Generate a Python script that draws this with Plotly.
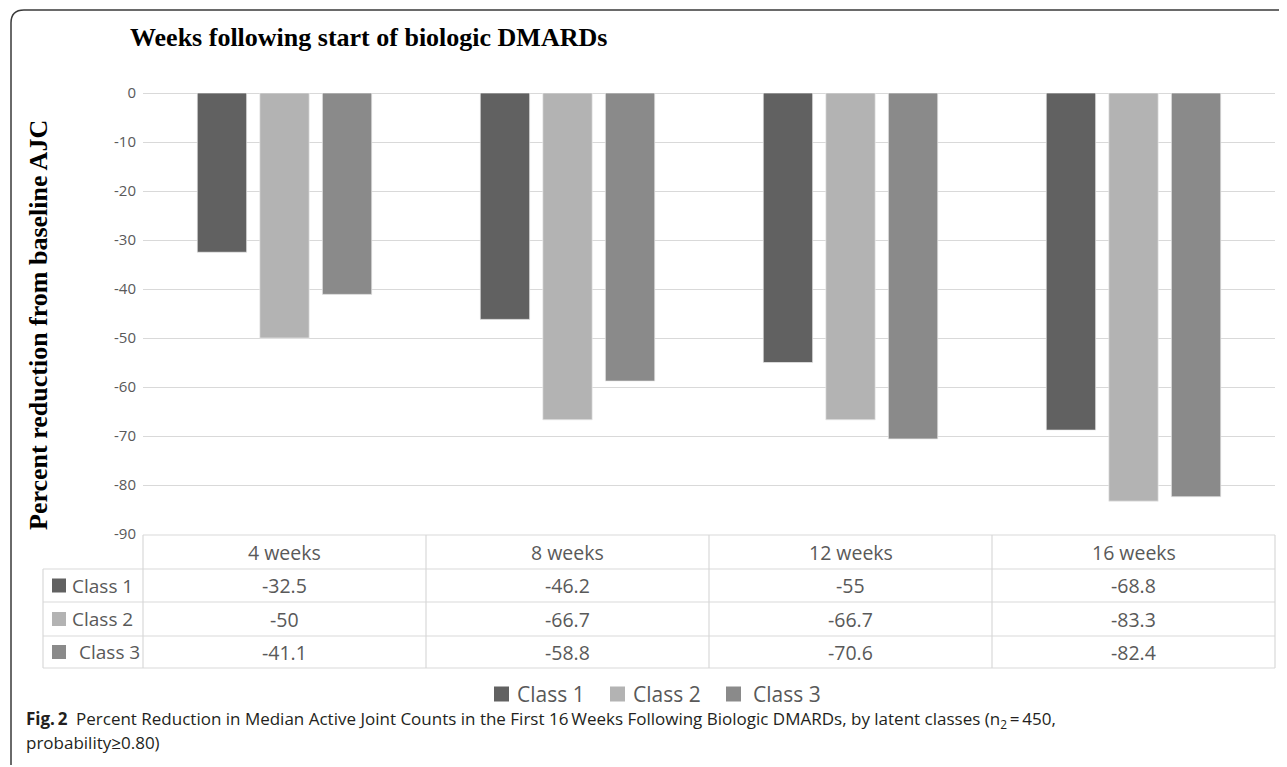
import plotly.graph_objects as go

# ---------------- data ----------------
categories = ["4 weeks", "8 weeks", "12 weeks", "16 weeks"]
series_names = ["Class 1", "Class 2", "Class 3"]
class1 = [-32.5, -46.2, -55, -68.8]
class2 = [-50, -66.7, -66.7, -83.3]
class3 = [-41.1, -58.8, -70.6, -82.4]
series_values = [class1, class2, class3]
y_ticks = [0, -10, -20, -30, -40, -50, -60, -70, -80, -90]

title_text = "Weeks following start of biologic DMARDs"
y_title = "Percent reduction from baseline AJC"
caption_line1 = ("<b>Fig.\u20092</b>\u2002Percent Reduction in Median Active Joint Counts in the First "
                 "16\u2009Weeks Following Biologic DMARDs, by latent classes (n<sub>2</sub>\u2009=\u2009450,")
caption_line2 = "probability\u22650.80)"

# ---------------- style / geometry ----------------
colors = ["#616161", "#b3b3b3", "#8a8a8a"]
text_color = "#595959"
grid_color = "#d9d9d9"
OFF = 8                      # page body margin
FW, FH = 1287 - OFF, 767 - OFF
L = 143 - OFF
R = FW - (1275 - OFF)
T = 93 - OFF
B = FH - (534 - OFF)
PW, PH = FW - L - R, FH - T - B


def px2x(px):
    """reference-screen x pixel -> paper x"""
    return (px - OFF - L) / PW


def py2y(py):
    """reference-screen y pixel -> paper y"""
    return (FH - B - (py - OFF)) / PH


fig = go.Figure()
for name, vals, col in zip(series_names, series_values, colors):
    fig.add_trace(go.Bar(
        x=categories, y=vals, name=name,
        marker=dict(color=col, line=dict(color="rgba(235,235,235,0.7)", width=1)),
        showlegend=False,
    ))

shapes = []
annotations = []

# outer rounded frame (top and left sides visible)
fl, ft, fr, fb, rad = 11, 10, 1285, 765, 13
shapes.append(dict(
    type="path", xref="paper", yref="paper",
    path=(f"M {px2x(fr)},{py2y(ft)} L {px2x(fl + rad)},{py2y(ft)} "
          f"Q {px2x(fl)},{py2y(ft)} {px2x(fl)},{py2y(ft + rad)} L {px2x(fl)},{py2y(fb)}"),
    line=dict(color="#3a3a3a", width=1.5),
))

# data table grid
row_lines = [535, 569, 602, 636, 668]
tbl_left = 43
for i, ry in enumerate(row_lines):
    x0 = 0 if i == 0 else px2x(tbl_left)
    shapes.append(dict(type="line", xref="paper", yref="paper", x0=x0, x1=1,
                       y0=py2y(ry), y1=py2y(ry), line=dict(color=grid_color, width=1.2)))
ncat = len(categories)
for k in range(ncat + 1):
    shapes.append(dict(type="line", xref="paper", yref="paper", x0=k / ncat, x1=k / ncat,
                       y0=py2y(row_lines[0]), y1=py2y(row_lines[-1]),
                       line=dict(color=grid_color, width=1.2)))
shapes.append(dict(type="line", xref="paper", yref="paper", x0=px2x(tbl_left), x1=px2x(tbl_left),
                   y0=py2y(row_lines[1]), y1=py2y(row_lines[-1]), line=dict(color=grid_color, width=1.2)))

# table header (categories) and values
hdr_c = (row_lines[0] + row_lines[1]) / 2
for c in categories:
    annotations.append(dict(x=c, xref="x", y=py2y(hdr_c), yref="paper", text=c, showarrow=False,
                            font=dict(family="Open Sans", size=19.5, color=text_color),
                            xanchor="center", yanchor="middle"))
label_offsets = [70, 70, 77]
for r, (name, vals, col) in enumerate(zip(series_names, series_values, colors)):
    rc = (row_lines[r + 1] + row_lines[r + 2]) / 2
    shapes.append(dict(type="rect", xref="paper", yref="paper", x0=px2x(52), x1=px2x(66),
                       y0=py2y(rc - 7), y1=py2y(rc + 7), fillcolor=col, line=dict(width=0)))
    annotations.append(dict(x=px2x(label_offsets[r]), xref="paper", y=py2y(rc), yref="paper",
                            text=name, showarrow=False,
                            font=dict(family="Open Sans", size=19, color=text_color),
                            xanchor="left", yanchor="middle"))
    for c, v in zip(categories, vals):
        annotations.append(dict(x=c, xref="x", y=py2y(rc), yref="paper", text=f"{v:g}",
                                showarrow=False,
                                font=dict(family="Open Sans", size=19.5, color=text_color),
                                xanchor="center", yanchor="middle"))

# bottom legend
leg_y = 694
leg_sq = [494, 610, 726]
leg_tx = [516, 632, 752]
for name, col, sx, tx in zip(series_names, colors, leg_sq, leg_tx):
    shapes.append(dict(type="rect", xref="paper", yref="paper", x0=px2x(sx), x1=px2x(sx + 15),
                       y0=py2y(leg_y - 7.5), y1=py2y(leg_y + 7.5), fillcolor=col, line=dict(width=0)))
    annotations.append(dict(x=px2x(tx), xref="paper", y=py2y(leg_y), yref="paper", text=name,
                            showarrow=False, borderpad=0,
                            font=dict(family="Open Sans", size=21, color=text_color),
                            xanchor="left", yanchor="middle"))

# y-axis title (placed explicitly)
annotations.append(dict(x=px2x(38), xref="paper", y=py2y(325), yref="paper", text=y_title,
                        textangle=-90, showarrow=False, xanchor="center", yanchor="middle",
                        font=dict(family="Times New Roman, Liberation Serif, serif", size=26,
                                  color="black", weight="bold")))

# caption
annotations.append(dict(x=px2x(25), xref="paper", y=py2y(719), yref="paper", text=caption_line1,
                        showarrow=False, borderpad=0,
                        font=dict(family="Open Sans", size=17, color="#231f20"),
                        xanchor="left", yanchor="middle"))
annotations.append(dict(x=px2x(25), xref="paper", y=py2y(742), yref="paper", text=caption_line2,
                        showarrow=False, borderpad=0,
                        font=dict(family="Open Sans", size=17, color="#231f20"),
                        xanchor="left", yanchor="middle"))

fig.update_layout(
    width=FW, height=FH,
    margin=dict(l=L, r=R, t=T, b=B, autoexpand=False),
    paper_bgcolor="white", plot_bgcolor="white",
    barmode="group", bargap=0.337, bargroupgap=0.21,
    title=dict(text=title_text, x=(130 - OFF) / FW, xanchor="left", xref="container",
               y=1 - (37 - OFF) / FH, yanchor="middle", yref="container",
               font=dict(family="Times New Roman, Liberation Serif, serif", size=26, color="black",
                         weight="bold")),
    xaxis=dict(showticklabels=False, showgrid=False, showline=False, ticks="", fixedrange=True),
    yaxis=dict(range=[-90, 0], tickvals=y_ticks, ticktext=[str(v) for v in y_ticks],
               showgrid=True, gridcolor=grid_color, gridwidth=1.2,
               zeroline=True, zerolinecolor=grid_color, zerolinewidth=1.2,
               showline=False, ticks="", ticklabelstandoff=6,
               tickfont=dict(family="Open Sans", size=15, color=text_color)),
    shapes=shapes, annotations=annotations,
)

fig.write_html("out.html")
